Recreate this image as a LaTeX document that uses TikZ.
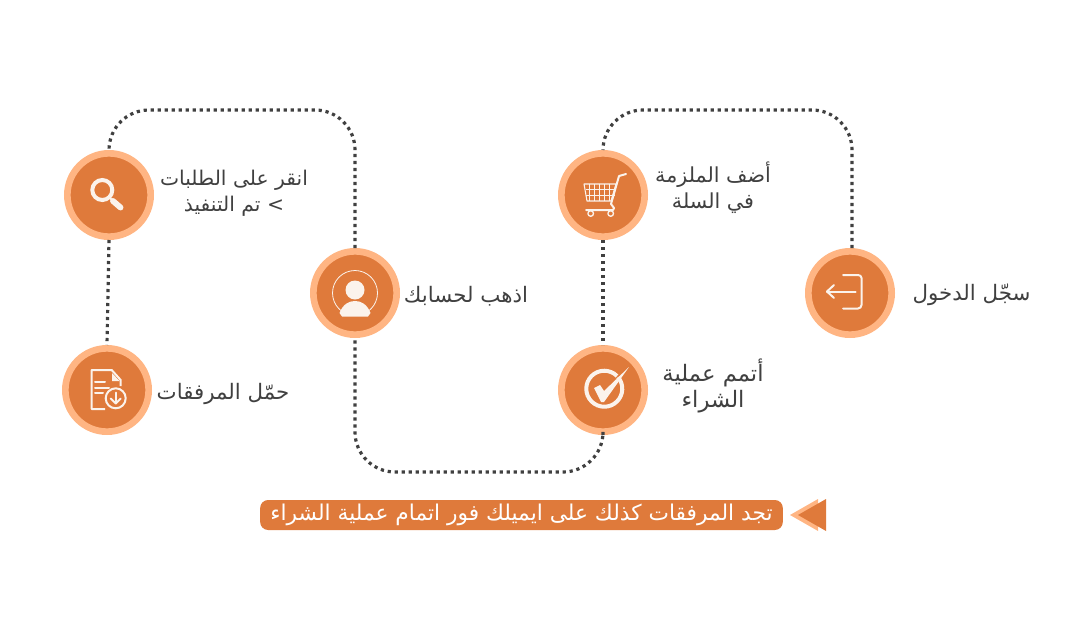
\documentclass[tikz,border=0pt]{standalone}
\usepackage{xcolor}
\usepackage{fontspec}
\usepackage{tikz}
\newfontfamily\arabicfont[Script=Arabic]{DejaVu Sans}
\TeXXeTstate=1
\definecolor{stepdark}{HTML}{DF7A3B}
\definecolor{steplight}{HTML}{FFB583}
\definecolor{dotgray}{HTML}{404040}
\definecolor{iconwhite}{HTML}{FBF3EC}
\newcommand{\ar}[1]{\beginR #1\endR}
\tikzset{
    stepring/.style={circle, fill=stepdark, draw=steplight, line width=5pt, minimum size=62.5pt, inner sep=0pt},
    steptext/.style={text=dotgray, font=\arabicfont\fontsize{16pt}{19.5pt}\selectfont, align=center, inner sep=0pt},
    dotline/.style={dotgray, line width=2.4pt, dash pattern=on 2.4pt off 2.85pt},
    iconline/.style={iconwhite, line width=1.5pt, line cap=round, line join=round},
}

\begin{document}
\begin{tikzpicture}[x=0.75pt,y=-0.75pt]
        \useasboundingbox (0,0) rectangle (1080,617);
        \coordinate (top) at (0,110);
        \coordinate (bot) at (0,472);

        \node[stepring] (login) at (850,293) {};
        \node[stepring] (cart) at (603,195) {};
        \node[stepring] (check) at (603,390) {};
        \node[stepring] (account) at (355,293) {};
        \node[stepring] (search) at (109,195) {};
        \node[stepring] (file) at (107,390) {};

        \draw[dotline, rounded corners=30pt] ([xshift=1.5pt]login.north) -- ([xshift=1.5pt]login.north |- top) -- (cart.north |- top) -- (cart.north);
        \draw[dotline] (cart.south) -- (check.north);
        \draw[dotline, rounded corners=30pt] (check.south) -- (check.south |- bot) -- (account.south |- bot) -- (account.south);
        \draw[dotline, rounded corners=30pt] (account.north) -- (account.north |- top) -- (search.north |- top) -- (search.north);
        \draw[dotline] (search.south) -- (file.north);

        \node[steptext] (logintext) at (971.5,295) {\ar{سجّل الدخول}};
        \node[steptext, font=\arabicfont\fontsize{15.5pt}{19.5pt}\selectfont] (carttext) at (713,188) {\ar{أضف الملزمة}\\\ar{في السلة}};
        \node[steptext, font=\arabicfont\fontsize{17pt}{19.5pt}\selectfont] (checktext) at (713,386) {\ar{أتمم عملية}\\\ar{الشراء}};
        \node[steptext] (accounttext) at (466,296) {\ar{اذهب لحسابك}};
        \node[steptext, font=\arabicfont\fontsize{15.2pt}{19.5pt}\selectfont] (searchtext) at (234,193) {\ar{انقر على الطلبات}\\\ar{> تم التنفيذ}};
        \node[steptext] (filetext) at (223,394) {\ar{حمّل المرفقات}};

        \node[fill=stepdark, rounded corners=6pt, minimum width=392pt, minimum height=22.5pt, inner sep=0pt, text=white, font=\arabicfont\fontsize{16.3pt}{18pt}\selectfont] (note) at (521.5,515) {\ar{تجد المرفقات كذلك على ايميلك فور اتمام عملية الشراء}};
        \fill[steplight] (790,515) -- (818,499) -- (818,531) -- cycle;
        \fill[stepdark] (798,515) -- (826,499) -- (826,531) -- cycle;

        % login icon
        \draw[iconline] (843,275) -- (858,275) to[out=0,in=90] (861.5,278) -- (861.5,305) to[out=-90,in=0] (858,308.5) -- (843,308.5);
        \draw[iconline] (855.5,291.5) -- (827,291.5);
        \draw[iconline] (834,285) -- (827,291.5) -- (834,298);

        % cart icon
        \draw[iconline, line width=0.8pt] (584,184) -- (616,184) -- (611,201) -- (587,201) -- cycle;
        \foreach \x in {589,594,599,604,609} \draw[iconwhite, line width=0.6pt] (\x,184) -- (\x,201);
        \foreach \y in {189,195} \draw[iconwhite, line width=0.6pt] (585.5,\y) -- (614.5,\y);
        \draw[iconline] (626,174) -- (619,176) -- (611,204) -- (614,208) -- (613,210) -- (586,210);
        \draw[iconline, line width=1pt] (590.7,213.5) circle (2.8) (610.7,213.5) circle (2.8);

        % check icon
        \draw[iconwhite, line width=3pt] (617,376) arc[start angle=-45, end angle=-400, radius=18];
        \fill[iconwhite] (594,388) -- (600,385) -- (604,391) -- (629,367) -- (604,402) -- (601,402) -- cycle;

        % account icon
        \draw[iconwhite, line width=0.6pt] (355,293) circle (22.5);
        \fill[iconwhite] (355,290) circle (9.5);
        \fill[iconwhite] (339.5,313) .. controls (343,304) and (349,301) .. (355,301) .. controls (361,301) and (367,304) .. (370.5,313) -- (368,316.5) -- (342,316.5) -- cycle;

        % search icon
        \draw[iconwhite, line width=3pt] (102.3,190) circle (10);
        \draw[iconwhite, line width=4.4pt, line cap=round] (113,201) -- (120.5,207.5);
        \draw[iconwhite, line width=1.5pt] (109,197) -- (113,201);

        % file icon
        \draw[iconline, line cap=butt] (105,409) -- (91.7,409) -- (91.7,370) -- (111.7,370) -- (120.7,380) -- (120.7,386);
        \fill[iconwhite] (112,373) -- (119.5,381) -- (112,381) -- cycle;
        \draw[iconline] (95,382.3) -- (105,382.3);
        \draw[iconline] (95,387.7) -- (109,387.7);
        \draw[iconline] (95,393.3) -- (103,393.3);
        \draw[iconline] (115.7,398.3) circle (10);
        \draw[iconline] (115.7,392.5) -- (115.7,403.5);
        \draw[iconline] (110.7,398.5) -- (115.7,403.5) -- (120.7,398.5);
\end{tikzpicture}
\end{document}
